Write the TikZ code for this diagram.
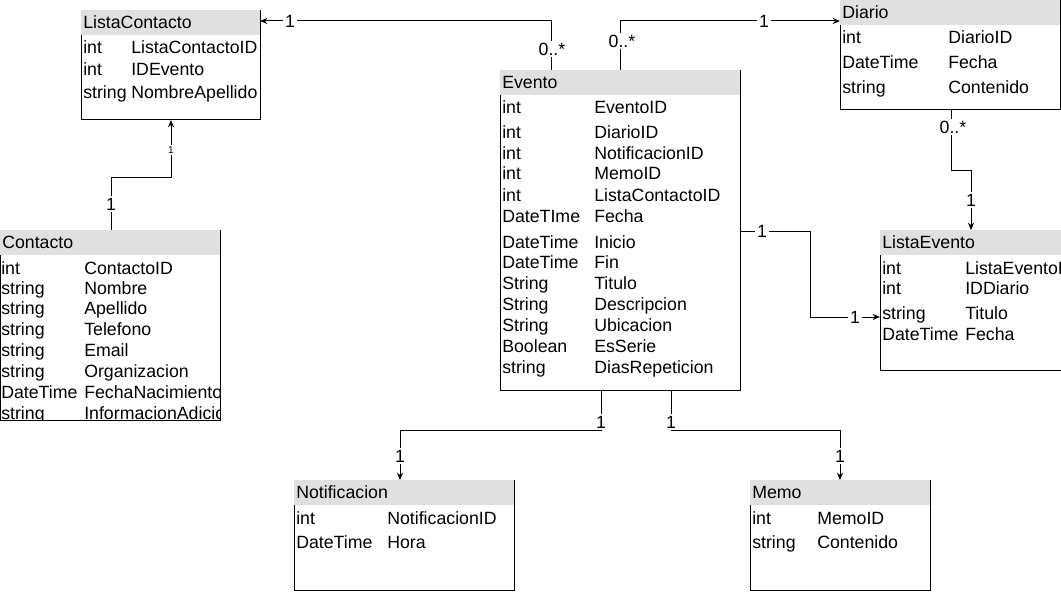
\documentclass[tikz,border=0pt]{standalone}
\usepackage{fontspec}
\setmainfont{Liberation Sans}
\usetikzlibrary{arrows.meta}
\definecolor{hdrgray}{HTML}{E0E0E0}
\tikzset{
  boxline/.style={draw=black, line width=0.75pt},
  txt/.style={anchor=west, inner sep=0pt, text height=9.6pt, text depth=0pt, font=\fontsize{13.3}{16}\selectfont},
  conn/.style={draw=black, line width=0.75pt},
  arr/.style={conn, -{Stealth[length=5.5pt,width=4.5pt]}},
  lbl/.style={fill=white, inner sep=1.5pt, text height=9.6pt, text depth=0pt, font=\fontsize{13.3}{16}\selectfont},
  smalllbl/.style={fill=white, inner sep=0.8pt, text height=5.4pt, text depth=0pt, font=\fontsize{7.5}{9}\selectfont},
  entitybox/.style={rectangle, inner sep=0pt, outer sep=0pt, anchor=north west},
}
% name, x, y, width px, height px, title
\newcommand\umlentity[6]{%
  \node[entitybox, minimum width=#4*0.75pt, minimum height=#5*0.75pt] (#1) at (#2,#3) {};
  \fill[hdrgray] (#1.north west) rectangle ([yshift=-18.75pt]#1.north east);
  \node[txt] (#1-title) at ([xshift=1.5pt,yshift=-9.4pt]#1.north west) {#6};
  \draw[boxline] ([yshift=-18.75pt]#1.north west) -- (#1.south west) -- (#1.south east) -- (#1.north east);
}
% prefix, index, x type, x field, y, type, field
\newcommand\umlrow[7]{%
  \node[txt] (#1-t#2) at (#3,#5) {#6};
  \node[txt] (#1-f#2) at (#4,#5) {#7};
}
\begin{document}
\begin{tikzpicture}[x=0.75pt,y=-0.75pt]
\useasboundingbox (0,0) rectangle (1061,592);
\clip (0,0) rectangle (1061,592);
\fill[white] (0,0) rectangle (1061,592);

% ---------- ListaContacto
\umlentity{lc}{81}{10}{179}{110}{ListaContacto}
\umlrow{lc}{1}{83}{131}{47}{int}{ListaContactoID}
\umlrow{lc}{2}{83}{131}{69}{int}{IDEvento}
\umlrow{lc}{3}{83}{131}{92}{string}{NombreApellido}

% ---------- Contacto
\umlentity{ct}{0}{230}{220}{190}{Contacto}
\begin{scope}
\clip (ct.south west) rectangle ([yshift=-18.75pt]ct.north east);
\umlrow{ct}{1}{1}{84}{268}{int}{ContactoID}
\umlrow{ct}{2}{1}{84}{288}{string}{Nombre}
\umlrow{ct}{3}{1}{84}{308}{string}{Apellido}
\umlrow{ct}{4}{1}{84}{329}{string}{Telefono}
\umlrow{ct}{5}{1}{84}{350}{string}{Email}
\umlrow{ct}{6}{1}{84}{371}{string}{Organizacion}
\umlrow{ct}{7}{1}{84}{392}{DateTime}{FechaNacimiento}
\umlrow{ct}{8}{1}{84}{413}{string}{InformacionAdicional}
\end{scope}
\draw[boxline] (ct.south west) -- (ct.south east) -- (ct.north east);

% ---------- Evento
\umlentity{ev}{500}{70}{240}{320}{Evento}
\umlrow{ev}{1}{502}{594}{107}{int}{EventoID}
\umlrow{ev}{2}{502}{594}{132}{int}{DiarioID}
\umlrow{ev}{3}{502}{594}{153}{int}{NotificacionID}
\umlrow{ev}{4}{502}{594}{173}{int}{MemoID}
\umlrow{ev}{5}{502}{594}{195}{int}{ListaContactoID}
\umlrow{ev}{6}{502}{594}{216}{DateTIme}{Fecha}
\umlrow{ev}{7}{502}{594}{242}{DateTime}{Inicio}
\umlrow{ev}{8}{502}{594}{262}{DateTime}{Fin}
\umlrow{ev}{9}{502}{594}{283}{String}{Titulo}
\umlrow{ev}{10}{502}{594}{304}{String}{Descripcion}
\umlrow{ev}{11}{502}{594}{325}{String}{Ubicacion}
\umlrow{ev}{12}{502}{594}{346}{Boolean}{EsSerie}
\umlrow{ev}{13}{502}{594}{367}{string}{DiasRepeticion}

% ---------- Diario
\umlentity{di}{840}{0}{220}{110}{Diario}
\umlrow{di}{1}{842}{948}{37}{int}{DiarioID}
\umlrow{di}{2}{842}{948}{62}{DateTime}{Fecha}
\umlrow{di}{3}{842}{948}{87}{string}{Contenido}

% ---------- ListaEvento
\umlentity{le}{880}{230}{200}{140}{ListaEvento}
\umlrow{le}{1}{882}{965}{268}{int}{ListaEventoID}
\umlrow{le}{2}{882}{965}{288}{int}{IDDiario}
\umlrow{le}{3}{882}{965}{313}{string}{Titulo}
\umlrow{le}{4}{882}{965}{334}{DateTime}{Fecha}

% ---------- Notificacion
\umlentity{no}{294}{480}{220}{110}{Notificacion}
\umlrow{no}{1}{296}{387}{518}{int}{NotificacionID}
\umlrow{no}{2}{296}{387}{542}{DateTime}{Hora}

% ---------- Memo
\umlentity{me}{750}{480}{180}{110}{Memo}
\umlrow{me}{1}{752}{817}{518}{int}{MemoID}
\umlrow{me}{2}{752}{817}{542}{string}{Contenido}

% ---------- connectors
% Evento -> ListaContacto
\draw[arr] ([xshift=38.25pt]ev.north west) |- ([yshift=-8.25pt]lc.north east);
\node[lbl] (l1a) at (552,49) {0..*};
\node[lbl] (l1b) at (290,21) {1};
% Evento -> Diario
\draw[arr] ([xshift=90pt]ev.north west) |- ([yshift=-15.75pt]di.north west);
\node[lbl] (l2a) at (622,41) {0..*};
\node[lbl] (l2b) at (764,21) {1};
% Contacto -> ListaContacto
\draw[arr] ([xshift=83.25pt]ct.north west) -- ++(0,-53) -| ([xshift=67.5pt]lc.south west);
\node[lbl] (l3a) at (111,204) {1};
\node[smalllbl] (l3b) at (171,150) {1};
% Diario -> ListaEvento
\draw[arr] ([xshift=83.25pt]di.south west) -- ++(0,60) -| ([xshift=68.25pt]le.north west);
\node[lbl] (l4a) at (953,127) {0..*};
\node[lbl] (l4b) at (971,200) {1};
% Evento -> ListaEvento
\draw[arr] ([yshift=-120.75pt]ev.north east) -- ++(70,0) |- ([yshift=-65.25pt]le.north west);
\node[lbl] (l5a) at (762,231) {1};
\node[lbl] (l5b) at (855,317) {1};
% Evento -> Notificacion
\draw[arr] ([xshift=75.75pt]ev.south west) -- ++(0,40) -| ([xshift=79.5pt]no.north west);
\node[lbl] (l6a) at (601,422) {1};
\node[lbl] (l6b) at (400,456) {1};
% Evento -> Memo
\draw[arr] ([xshift=128.25pt]ev.south west) -- ++(0,40) -| ([xshift=67.5pt]me.north west);
\node[lbl] (l7a) at (671,422) {1};
\node[lbl] (l7b) at (840,456) {1};
\end{tikzpicture}
\end{document}
